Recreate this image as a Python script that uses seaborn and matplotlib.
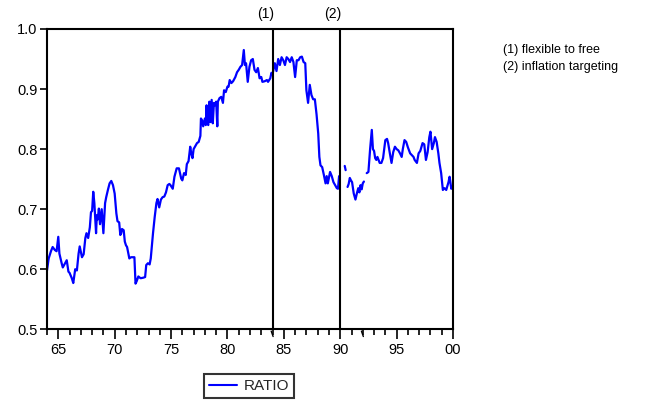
import numpy as np
import pandas as pd
import matplotlib
matplotlib.use("Agg")
import matplotlib.pyplot as plt
import matplotlib.transforms as mtransforms
from matplotlib.lines import Line2D
from matplotlib.ticker import FixedLocator
import seaborn as sns

# ---------------- data ----------------
years = [
    1964.00, 1964.15, 1964.35, 1964.50, 1964.70, 1964.85, 1965.00, 1965.10, 1965.30, 1965.40,
    1965.55, 1965.75, 1965.90, 1966.00, 1966.20, 1966.33, 1966.50, 1966.65, 1966.80, 1966.90,
    1967.10, 1967.25, 1967.40, 1967.50, 1967.65, 1967.80, 1967.90, 1968.00, 1968.10, 1968.20,
    1968.35, 1968.42, 1968.50, 1968.60, 1968.70, 1968.85, 1969.00, 1969.15, 1969.25, 1969.40,
    1969.55, 1969.70, 1969.85, 1970.00, 1970.15, 1970.25, 1970.40, 1970.50, 1970.58, 1970.65,
    1970.80, 1970.90, 1971.00, 1971.10, 1971.30, 1971.45, 1971.60, 1971.75, 1971.85, 1971.95,
    1972.10, 1972.30, 1972.55, 1972.70, 1972.80, 1972.95, 1973.10, 1973.20, 1973.40, 1973.55,
    1973.70, 1973.80, 1973.95, 1974.10, 1974.25, 1974.40, 1974.55, 1974.70, 1974.85, 1974.95,
    1975.15, 1975.30, 1975.50, 1975.70, 1975.90, 1976.00, 1976.15, 1976.30, 1976.40, 1976.55,
    1976.70, 1976.80, 1976.90, 1977.00, 1977.15, 1977.30, 1977.45, 1977.60, 1977.65, 1977.75,
    1977.85, 1978.00, 1978.08, 1978.15, 1978.22, 1978.30, 1978.40, 1978.48, 1978.60, 1978.70,
    1978.80, 1978.90, 1979.00, 1979.10, 1979.15, 1979.30, 1979.45, 1979.60, 1979.70, 1979.85,
    1980.00, 1980.10, 1980.20, 1980.35, 1980.50, 1980.70, 1980.85, 1981.00, 1981.15, 1981.30,
    1981.45, 1981.55, 1981.65, 1981.80, 1981.95, 1982.10, 1982.25, 1982.40, 1982.55, 1982.70,
    1982.85, 1983.00, 1983.10, 1983.30, 1983.50, 1983.60, 1983.80, 1983.90, 1984.00, 1984.20,
    1984.35, 1984.50, 1984.65, 1984.80, 1984.95, 1985.10, 1985.25, 1985.40, 1985.55, 1985.70,
    1985.85, 1986.00, 1986.15, 1986.30, 1986.45, 1986.60, 1986.75, 1986.90, 1987.00, 1987.15,
    1987.30, 1987.45, 1987.60, 1987.75, 1987.90, 1988.05, 1988.15, 1988.25, 1988.40, 1988.55,
    1988.70, 1988.80, 1988.90, 1989.10, 1989.25, 1989.40, 1989.55, 1989.70, 1989.80, 1989.90,
    1990.10, 1990.40, 1990.48, 1990.56,
    1990.65, 1990.75, 1990.85, 1990.95, 1991.05, 1991.20, 1991.35, 1991.50, 1991.60, 1991.70,
    1991.80, 1991.90, 1992.00, 1992.10, 1992.22,
    1992.35, 1992.50, 1992.65, 1992.80, 1992.90, 1993.00, 1993.10, 1993.20, 1993.30, 1993.50,
    1993.65, 1993.80, 1994.00, 1994.15, 1994.25, 1994.40, 1994.55, 1994.70, 1994.85, 1995.00,
    1995.15, 1995.30, 1995.45, 1995.55, 1995.70, 1995.85, 1996.00, 1996.20, 1996.35, 1996.50,
    1996.60, 1996.80, 1996.95, 1997.10, 1997.30, 1997.45, 1997.60, 1997.75, 1997.90, 1998.00,
    1998.15, 1998.30, 1998.40, 1998.55, 1998.70, 1998.80, 1998.95, 1999.10, 1999.25, 1999.40,
    1999.60, 1999.70, 1999.85, 2000.00,
]
ratio = [
    0.598, 0.618, 0.630, 0.637, 0.632, 0.630, 0.654, 0.626, 0.610, 0.603,
    0.608, 0.615, 0.596, 0.594, 0.585, 0.577, 0.600, 0.598, 0.626, 0.638,
    0.620, 0.625, 0.652, 0.660, 0.652, 0.670, 0.695, 0.697, 0.729, 0.710,
    0.660, 0.690, 0.683, 0.701, 0.675, 0.700, 0.660, 0.710, 0.720, 0.732,
    0.743, 0.747, 0.740, 0.726, 0.693, 0.680, 0.678, 0.657, 0.660, 0.667,
    0.665, 0.646, 0.640, 0.637, 0.618, 0.620, 0.620, 0.620, 0.576, 0.580,
    0.588, 0.585, 0.586, 0.587, 0.607, 0.610, 0.608, 0.618, 0.660, 0.687,
    0.710, 0.717, 0.703, 0.716, 0.720, 0.721, 0.728, 0.740, 0.742, 0.740,
    0.734, 0.754, 0.768, 0.768, 0.751, 0.748, 0.760, 0.757, 0.775, 0.780,
    0.804, 0.792, 0.785, 0.800, 0.805, 0.810, 0.812, 0.822, 0.851, 0.848,
    0.838, 0.851, 0.840, 0.873, 0.843, 0.840, 0.879, 0.845, 0.882, 0.843,
    0.877, 0.873, 0.879, 0.838, 0.879, 0.885, 0.887, 0.877, 0.898, 0.895,
    0.904, 0.904, 0.915, 0.910, 0.913, 0.920, 0.928, 0.932, 0.937, 0.940,
    0.965, 0.940, 0.943, 0.912, 0.937, 0.948, 0.950, 0.932, 0.928, 0.935,
    0.918, 0.920, 0.912, 0.913, 0.915, 0.912, 0.918, 0.927, 0.925, 0.943,
    0.930, 0.950, 0.940, 0.953, 0.948, 0.940, 0.953, 0.950, 0.945, 0.953,
    0.945, 0.920, 0.948, 0.948, 0.953, 0.954, 0.945, 0.943, 0.898, 0.877,
    0.907, 0.890, 0.883, 0.883, 0.858, 0.826, 0.787, 0.773, 0.770, 0.757,
    0.743, 0.755, 0.743, 0.762, 0.755, 0.745, 0.740, 0.735, 0.734, 0.755,
    None, 0.772, 0.765, None,
    0.737, 0.742, 0.752, 0.748, 0.745, 0.726, 0.716, 0.728, 0.735, 0.728,
    0.740, 0.733, 0.743, 0.746, None,
    0.760, 0.762, 0.800, 0.832, 0.800, 0.797, 0.785, 0.782, 0.787, 0.777,
    0.777, 0.785, 0.815, 0.817, 0.810, 0.793, 0.777, 0.795, 0.804, 0.800,
    0.798, 0.793, 0.787, 0.800, 0.815, 0.812, 0.803, 0.793, 0.790, 0.787,
    0.782, 0.777, 0.793, 0.797, 0.810, 0.808, 0.782, 0.795, 0.820, 0.829,
    0.800, 0.810, 0.820, 0.812, 0.793, 0.777, 0.760, 0.732, 0.735, 0.732,
    0.745, 0.754, 0.734, 0.738,
]
series_name = "RATIO"
x_ticks = [1965, 1970, 1975, 1980, 1985, 1990, 1995, 2000]
x_labels = ["65", "70", "75", "80", "85", "90", "95", "00"]
x_minor = list(range(1964, 2001))
y_ticks = [0.5, 0.6, 0.7, 0.8, 0.9, 1.0]
y_labels = ["0.5", "0.6", "0.7", "0.8", "0.9", "1.0"]
events = [1984.0, 1990.0]
event_labels = ["(1)", "(2)"]
notes = ["(1) flexible to free", "(2) inflation targeting"]
break_marks = [1984.0, 1992.0]

# ---------------- figure ----------------
sns.set_theme(style="white")
plt.rcParams["font.family"] = ["Liberation Sans", "DejaVu Sans"]

df = pd.DataFrame({"year": years, "ratio": pd.to_numeric(pd.Series(ratio), errors="coerce")})
df["seg"] = df["ratio"].isna().cumsum()
df = df.dropna()

fig = plt.figure(figsize=(6.67, 4.08), dpi=100)
ax = fig.add_axes([47 / 667, 1 - 329.3 / 408, 406 / 667, 300.3 / 408])

sns.lineplot(data=df, x="year", y="ratio", units="seg", estimator=None,
             color="#0000FF", linewidth=1.6, ax=ax, legend=False)

ax.set_xlim(1964, 2000)
ax.set_ylim(0.5, 1.0)
ax.set_xlabel("")
ax.set_ylabel("")

ax.xaxis.set_major_locator(FixedLocator(x_ticks))
ax.set_xticklabels(x_labels)
ax.xaxis.set_minor_locator(FixedLocator(x_minor))
ax.yaxis.set_major_locator(FixedLocator(y_ticks))
ax.set_yticklabels(y_labels)

ax.tick_params(axis="x", which="major", direction="out", length=7, width=1.2,
               color="black", labelsize=10.5, pad=3, labelcolor="black", bottom=True)
ax.tick_params(axis="x", which="minor", direction="out", length=4, width=1.2,
               color="black", bottom=True)
ax.tick_params(axis="y", which="major", direction="out", length=5, width=1.2,
               color="black", labelsize=10.5, pad=2, labelcolor="black", left=True)

for sp in ax.spines.values():
    sp.set_visible(True)
    sp.set_color("black")
    sp.set_linewidth(1.5)

for e, lab in zip(events, event_labels):
    ax.axvline(e, color="black", linewidth=1.5, zorder=3)
    ax.annotate(lab, xy=(e, 1.0), xycoords=("data", "axes fraction"),
                xytext=(1, 10.8), textcoords="offset points",
                ha="right", va="center", fontsize=10, color="black")

trans = mtransforms.blended_transform_factory(ax.transData, ax.transAxes)
for b in break_marks:
    ax.plot([b - 0.12, b + 0.05], [-0.006, -0.024], color="black", lw=1.0,
            transform=trans, clip_on=False)

for i, t in enumerate(notes):
    fig.text(503 / 667, 1 - (50 + 17 * i) / 408, t, fontsize=9,
             ha="left", va="center", color="black")

handle = Line2D([], [], color="#0000FF", linewidth=1.5)
leg = fig.legend(handles=[handle], labels=[series_name], loc="center",
                 bbox_to_anchor=(249 / 667, 1 - 386 / 408), frameon=True,
                 fancybox=False, edgecolor="black", fontsize=11,
                 handlelength=1.85, handletextpad=0.45, borderpad=0.3)
leg.get_frame().set_linewidth(1.5)

fig.savefig("out.png", dpi=100, facecolor="white")
